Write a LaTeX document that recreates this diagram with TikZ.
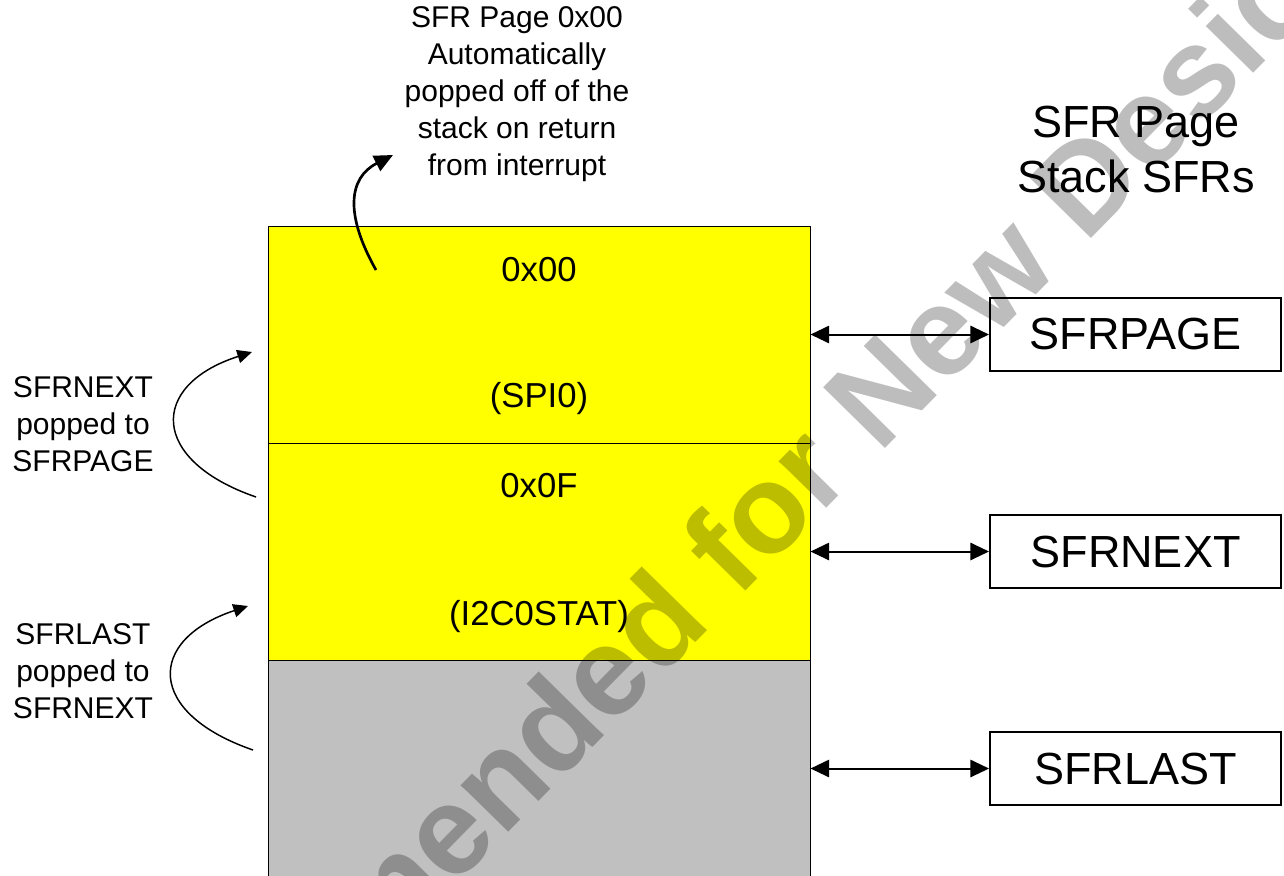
\documentclass[tikz,border=0pt]{standalone}
\usepackage{fontspec}
\setmainfont{Liberation Sans}
\usetikzlibrary{positioning, arrows.meta}
\definecolor{stackyellow}{RGB}{255,255,0}
\definecolor{stackgray}{RGB}{192,192,192}

\begin{document}
\begin{tikzpicture}[x=0.75pt, y=-0.75pt, >={Triangle[length=14pt, width=13pt]},
    cell/.style={draw=black, line width=0.75pt, minimum width=406.5pt,
                 minimum height=162.75pt, inner sep=0pt},
    cellval/.style={font=\fontsize{26}{31}\selectfont, inner sep=0pt},
    sfrbox/.style={draw=black, line width=1.5pt, fill=white,
                   minimum width=218.25pt, minimum height=54.75pt, inner sep=0pt,
                   font=\fontsize{33.75}{41}\selectfont},
    note/.style={font=\fontsize{22.5}{27.75}\selectfont, align=center, inner sep=0pt},
    pop/.style={->, line width=1.1pt, >={Triangle[length=11pt, width=10pt]}},
    link/.style={<->, line width=1.5pt},
    wmark/.style={font=\bfseries\fontsize{94.5}{94.5}\selectfont, text=black,
                  text opacity=0.26, rotate=45.5, anchor=base, inner sep=0pt}]

  \useasboundingbox (0,0) rectangle (1284,875);
  \clip (0,0) rectangle (1284,875);

  % ---- the stack, top entry first
  \node[cell, fill=stackyellow] (top) at (539,334.5) {};
  \node[cell, fill=stackyellow] (mid) at (539,551.5) {};
  \node[cell, fill=stackgray]   (low) at (539,768.5) {};

  \node[cellval] (topval)  at (539,270) {0x00};
  \node[cellval] (topname) at (539,399) {(SPI0)};
  \node[cellval] (midval)  at (539,486) {0x0F};
  \node[cellval] (midname) at (539,617) {(I2C0STAT)};

  % ---- the stack SFRs on the right
  \node[font=\fontsize{33.75}{41.25}\selectfont, align=center, inner sep=0pt]
    (title) at (1136,150) {SFR Page\\Stack SFRs};
  \node[sfrbox] (sfrpage) at (1135.5,334.5) {SFRPAGE};
  \node[sfrbox] (sfrnext) at (1135.5,551.5) {SFRNEXT};
  \node[sfrbox] (sfrlast) at (1135.5,768.5) {SFRLAST};

  \draw[link] (top.east) -- (sfrpage.west);
  \draw[link] (mid.east) -- (sfrnext.west);
  \draw[link] (low.east) -- (sfrlast.west);

  % ---- what gets popped where
  \node[note] (retnote)  at (517,94.5) {SFR Page 0x00\\Automatically\\popped off of the\\stack on return\\from interrupt};
  \node[note] (nextnote) at (83,424) {SFRNEXT\\popped to\\SFRPAGE};
  \node[note] (lastnote) at (83,671) {SFRLAST\\popped to\\SFRNEXT};

  \coordinate (retfrom) at (376,270);
  \coordinate (retto) at (393,155);
  \draw[pop, line width=2pt, >={Triangle[length=14pt, width=12.5pt]}]
    (retfrom) .. controls (345,215) and (348,178) .. (retto);

  \coordinate (nextfrom) at (256,497);
  \coordinate (nextto) at (252,352);
  \draw[pop] (nextfrom) .. controls (149,460) and (149,385) .. (nextto);

  \coordinate (lastfrom) at (253,750);
  \coordinate (lastto) at (248,606);
  \draw[pop] (lastfrom) .. controls (146,713) and (146,640) .. (lastto);

  % ---- watermark
  \node[wmark] (wm) at (669,669) {Not Recommended for New Designs};
\end{tikzpicture}
\end{document}
